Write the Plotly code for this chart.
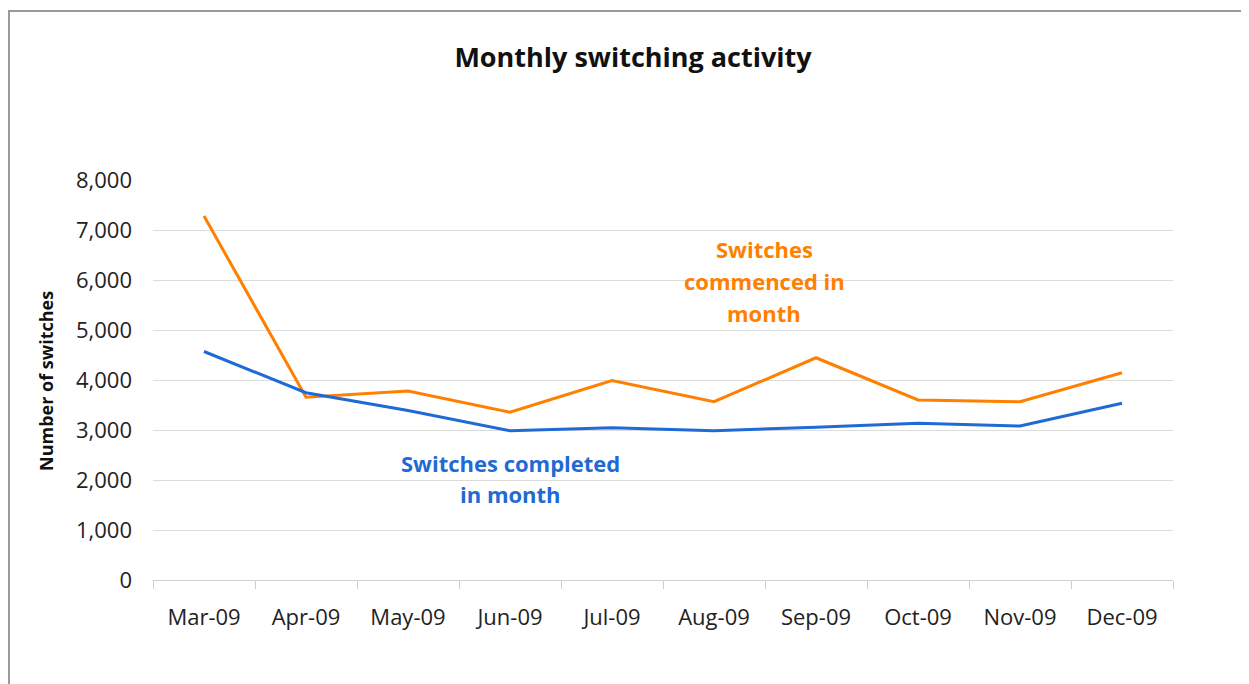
import plotly.graph_objects as go

MONTHS = ["Mar-09", "Apr-09", "May-09", "Jun-09", "Jul-09",
          "Aug-09", "Sep-09", "Oct-09", "Nov-09", "Dec-09"]
COMMENCED = [7280, 3655, 3780, 3355, 3990, 3565, 4445, 3600, 3565, 4145]
COMPLETED = [4570, 3745, 3390, 2985, 3045, 2985, 3055, 3135, 3080, 3535]

ORANGE = "#FF8000"
BLUE = "#1F6AD4"
FONT = "Open Sans, Noto Sans, DejaVu Sans, sans-serif"

# the page adds an 8px body margin, so the figure is sized and laid out
# in coordinates shifted by 8px from the screenshot
W, H = 1241, 676
PL, PR, PT, PB = 145, 1165, 172, 572


def px_x(p):
    return (p - PL) / (PR - PL)


def px_y(p):
    return (PB - p) / (PB - PT)


fig = go.Figure()
fig.add_trace(go.Scatter(
    x=MONTHS, y=COMMENCED, mode="lines", name="Switches commenced in month",
    line=dict(color=ORANGE, width=3),
))
fig.add_trace(go.Scatter(
    x=MONTHS, y=COMPLETED, mode="lines", name="Switches completed in month",
    line=dict(color=BLUE, width=3),
))

fig.update_layout(
    width=W, height=H,
    paper_bgcolor="white", plot_bgcolor="white",
    showlegend=False,
    margin=dict(l=PL, r=W - PR, t=PT, b=H - PB),
    font=dict(family=FONT, color="#222222", size=22),
    title=dict(
        text="<b>Monthly switching activity</b>",
        x=(633 - 8) / W, xanchor="center", y=1 - 50 / H, yanchor="middle",
        font=dict(size=27, color="#111111"),
    ),
)

fig.update_xaxes(
    type="category", range=[-0.5, len(MONTHS) - 0.5],
    showgrid=False,
    showline=True, linecolor="#cfcfcf", linewidth=1,
    ticks="outside", tickson="boundaries", ticklen=8, tickcolor="#cfcfcf",
    tickfont=dict(size=22, color="#222222"),
    ticklabelstandoff=18,
)
fig.update_yaxes(
    range=[0, 8000], dtick=1000, tickformat=",d",
    showgrid=True, gridcolor="#dcdcdc", gridwidth=1,
    zeroline=False, showline=False,
    ticks="", ticklabelstandoff=20,
    tickfont=dict(size=22, color="#222222"),
)

# y axis title
fig.add_annotation(
    x=px_x(38), y=px_y(373), xref="paper", yref="paper",
    text="<b>Number of switches</b>", textangle=-90, showarrow=False,
    font=dict(size=18, color="#111111"), xanchor="center", yanchor="middle",
)

# series labels, one annotation per line to match the line spacing
for line, y in zip(["Switches", "commenced in", "month"], [241, 273, 305]):
    fig.add_annotation(
        x=px_x(756), y=px_y(y), xref="paper", yref="paper",
        text=f"<b>{line}</b>", showarrow=False,
        font=dict(size=22, color=ORANGE), yanchor="middle",
    )
for line, y in zip(["Switches completed", "in month"], [455, 486]):
    fig.add_annotation(
        x=px_x(502), y=px_y(y), xref="paper", yref="paper",
        text=f"<b>{line}</b>", showarrow=False,
        font=dict(size=22, color=BLUE), yanchor="middle",
    )

# outer chart frame (right and bottom edges fall outside the picture)
fig.add_shape(
    type="rect", xref="paper", yref="paper",
    x0=px_x(1), x1=px_x(1260), y0=px_y(700), y1=px_y(3),
    line=dict(color="#9a9a9a", width=2), fillcolor="rgba(0,0,0,0)",
    layer="below",
)

fig.write_html("out.html")
